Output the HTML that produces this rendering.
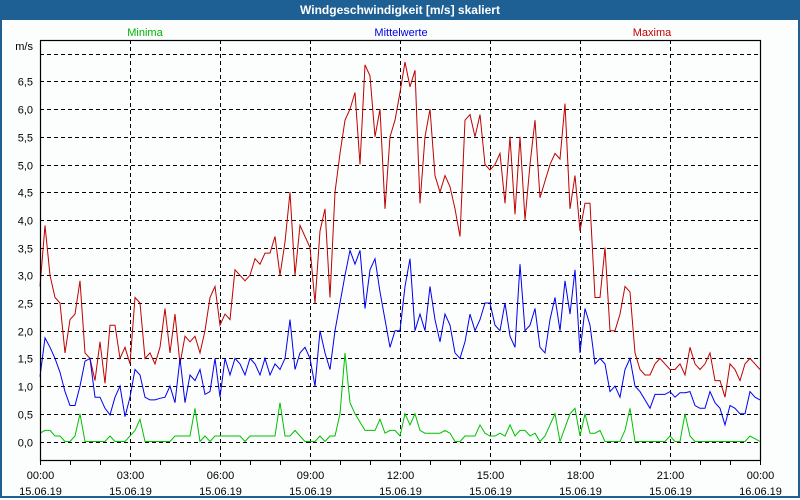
<!DOCTYPE html>
<html><head><meta charset="utf-8">
<style>
html,body{margin:0;padding:0;}
body{width:800px;height:500px;overflow:hidden;background:#fcfefe;font-family:"Liberation Sans",sans-serif;}
#frame{position:absolute;left:0;top:0;width:796px;height:496px;border:2px solid #1f6094;border-top:none;}
#title{position:absolute;left:0;top:0;width:800px;height:20px;background:#1f6094;color:#fff;font-weight:bold;font-size:12px;line-height:20px;text-align:center;}
svg{position:absolute;left:0;top:0;}
</style></head>
<body>
<div id="frame"></div>
<div id="title">Windgeschwindigkeit [m/s] skaliert</div>
<svg id="chart" width="800" height="500" font-family="Liberation Sans, sans-serif" font-size="11">
<text x="145" y="36" fill="#00b000" text-anchor="middle">Minima</text>
<text x="401" y="36" fill="#0000e0" text-anchor="middle">Mittelwerte</text>
<text x="652" y="36" fill="#c00000" text-anchor="middle">Maxima</text>
<text x="33" y="50" text-anchor="end" fill="#000">m/s</text>
<g id="grid"></g><g id="series"></g><g id="axes"></g>
</svg>
<script>
const yTicks=[0,0.5,1,1.5,2,2.5,3,3.5,4,4.5,5,5.5,6,6.5,7];
const yLabels=["0,0","0,5","1,0","1,5","2,0","2,5","3,0","3,5","4,0","4,5","5,0","5,5","6,0","6,5",""];
const xTickHours=[0,3,6,9,12,15,18,21,24];
const xTimeLabels=["00:00","03:00","06:00","09:00","12:00","15:00","18:00","21:00","00:00"];
const xDateLabels=["15.06.19","15.06.19","15.06.19","15.06.19","15.06.19","15.06.19","15.06.19","15.06.19","16.06.19"];
const maxima=[2.8,3.9,3.0,2.6,2.5,1.6,2.2,2.3,2.9,1.6,1.5,1.1,1.8,1.05,2.1,2.1,1.5,1.7,1.4,
2.6,2.5,1.5,1.6,1.4,1.7,2.4,1.6,2.3,1.4,1.9,1.8,1.9,1.6,2.0,2.6,2.8,2.1,2.3,
2.2,3.1,3.0,2.9,3.0,3.3,3.2,3.4,3.4,3.7,3.0,3.6,4.5,3.0,3.9,3.7,3.5,2.5,
3.8,4.2,2.6,4.5,5.2,5.8,6.0,6.3,5.0,6.8,6.6,5.5,6.0,4.2,5.5,5.8,6.3,6.85,6.4,6.7,4.3,5.5,6.0,4.8,4.5,4.8,4.6,4.2,3.7,5.8,5.9,5.5,5.9,5.0,4.9,5.0,5.2,4.3,5.5,4.1,5.5,4.0,5.0,5.8,4.4,4.7,5.0,5.2,5.1,6.1,4.2,4.8,3.8,4.3,
4.3,2.6,2.6,3.5,2.0,2.0,2.3,2.8,2.7,1.6,1.3,1.2,1.2,1.4,1.5,1.4,1.3,1.3,1.4,1.2,1.7,1.4,1.3,1.4,1.6,1.1,1.1,0.8,1.4,1.3,1.1,1.4,1.5,1.4,1.3];
const mittel=[1.17,1.87,1.7,1.5,1.25,0.9,0.65,0.65,1.0,1.45,1.5,0.8,0.8,0.6,0.48,0.8,1.0,0.45,0.8,
1.3,1.2,0.8,0.75,0.75,0.78,0.8,1.0,0.7,1.5,0.7,1.2,1.1,1.3,0.85,0.9,1.5,0.8,1.5,
1.2,1.5,1.4,1.2,1.5,1.4,1.2,1.5,1.2,1.4,1.3,1.5,2.2,1.3,1.6,1.7,1.5,1.0,
2.0,1.6,1.3,2.0,2.5,3.0,3.45,3.2,3.45,2.4,3.1,3.3,2.7,2.2,1.7,2.0,2.0,2.8,3.3,2.0,2.3,2.0,2.8,2.2,1.8,2.3,2.1,1.6,1.5,1.8,2.3,2.0,2.2,2.5,2.5,2.1,2.0,2.5,1.9,1.7,3.2,2.0,2.1,2.4,1.7,1.6,2.2,2.6,2.0,2.9,2.3,3.1,1.6,2.4,
2.1,1.4,1.5,1.4,0.9,1.0,0.8,1.3,1.5,1.0,0.9,0.75,0.6,0.85,0.85,0.85,0.9,0.8,0.88,0.88,0.9,0.65,0.6,0.6,0.9,0.7,0.6,0.3,0.65,0.6,0.5,0.5,0.9,0.8,0.75];
const minima=[0.15,0.2,0.2,0.1,0.1,0,0,0.1,0.5,0,0,0,0,0,0.1,0,0,0,0.1,
0.2,0.4,0,0,0,0,0,0,0.1,0.1,0.1,0.1,0.6,0,0.1,0,0.1,0.1,0.1,
0.1,0.1,0.1,0,0.1,0.1,0.1,0.1,0.1,0.1,0.7,0.1,0.1,0.2,0.1,0,0,0,
0.1,0,0.1,0.1,0.5,1.6,0.7,0.5,0.35,0.2,0.2,0.2,0.4,0.15,0.2,0.2,0.1,0.5,0.3,0.5,0.2,0.15,0.15,0.15,0.15,0.2,0.15,0,0,0.1,0.1,0.1,0.3,0.15,0.1,0.1,0.15,0.1,0.3,0.1,0.2,0.2,0.1,0.15,0,0.1,0.3,0.5,0,0.25,0.5,0.6,0.1,0.5,
0.15,0.15,0.2,0,0,0,0,0.2,0.6,0,0,0,0,0,0,0,0.1,0,0,0.5,0.1,0,0,0,0,0,0,0,0,0,0,0,0.1,0.05,0];
const NS="http://www.w3.org/2000/svg";
const L=40,R=760,T=40,B=460;
function xScale(h){return L+(R-L)*h/24;}
function yScale(v){return 441.5-v*55.4;}
function mk(tag,attrs,parent){const e=document.createElementNS(NS,tag);for(const k in attrs)e.setAttribute(k,attrs[k]);parent.appendChild(e);return e;}
const grid=document.getElementById('grid'),axes=document.getElementById('axes'),series=document.getElementById('series');
yTicks.forEach((v,i)=>{
  const y=Math.round(yScale(v))+0.5;
  const g=mk('line',{x1:L,x2:R,y1:y,y2:y,stroke:'#000','stroke-dasharray':'4,3','stroke-width':1},grid);
  
  
  if(yLabels[i]){const t=mk('text',{x:33,y:y+4,'text-anchor':'end',fill:'#000'},axes);t.textContent=yLabels[i];
  
  }
});
xTickHours.forEach((h,i)=>{
  const x=Math.round(xScale(h))+0.5;
  if(h>0&&h<24){const g=mk('line',{x1:x,x2:x,y1:T,y2:B,stroke:'#000','stroke-dasharray':'4,3'},grid);
  
  }
  const t1=mk('text',{x:x,y:479,'text-anchor':'middle',fill:'#000'},axes);t1.textContent=xTimeLabels[i];
  
  
  const t2=mk('text',{x:x,y:495,'text-anchor':'middle',fill:'#000'},axes);t2.textContent=xDateLabels[i];
  
  
});
for(let h=0;h<=24;h++){const x=Math.round(xScale(h))+0.5;const tk=mk('line',{x1:x,x2:x,y1:B,y2:B+5,stroke:'#000'},axes);
  
  }
const frameR=mk('rect',{x:L+0.5,y:T+0.5,width:R-L,height:B-T,fill:'none',stroke:'#000','stroke-width':1.2},axes);


function drawSeries(arr,color,name){
  const n=arr.length;
  const pts=arr.map((v,i)=>xScale(i*24/(n-1)).toFixed(1)+','+yScale(v).toFixed(1)).join(' ');
  const p=mk('polyline',{points:pts,fill:'none',stroke:color,'stroke-width':1,'stroke-linejoin':'miter'},series);
  
  
}
drawSeries(minima,'#00c000','series-minima');
drawSeries(maxima,'#c00000','series-maxima');
drawSeries(mittel,'#0000f0','series-mittelwerte');
</script>
</body></html>
